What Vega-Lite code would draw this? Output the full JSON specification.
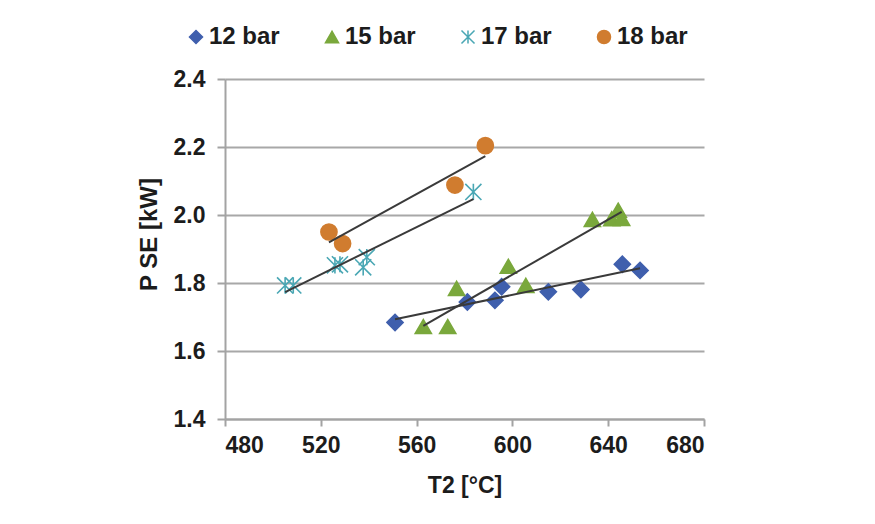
{
  "$schema": "https://vega.github.io/schema/vega-lite/v6.json",
  "width": 479,
  "height": 340,
  "autosize": "none",
  "padding": {"left": 225, "top": 79, "right": 171, "bottom": 105},
  "background": "white",
  "config": {
    "font": "Liberation Sans",
    "view": {"stroke": null},
    "axis": {
      "domainColor": "#a3a3a3",
      "domainWidth": 2,
      "tickColor": "#a3a3a3",
      "tickWidth": 2,
      "gridColor": "#a8a8a8",
      "gridWidth": 2,
      "labelFont": "Liberation Sans",
      "labelFontSize": 23,
      "labelFontWeight": "bold",
      "labelColor": "#1c1c1c",
      "titleFont": "Liberation Sans",
      "titleFontWeight": "bold",
      "titleColor": "#1c1c1c"
    }
  },
  "data": {
    "values": [
      {"series": "12 bar", "T": 551.0, "P": 1.684},
      {"series": "12 bar", "T": 581.2, "P": 1.744},
      {"series": "12 bar", "T": 592.7, "P": 1.749},
      {"series": "12 bar", "T": 595.5, "P": 1.789},
      {"series": "12 bar", "T": 615.0, "P": 1.774},
      {"series": "12 bar", "T": 628.6, "P": 1.781},
      {"series": "12 bar", "T": 645.9, "P": 1.855},
      {"series": "12 bar", "T": 653.3, "P": 1.837},
      {"series": "15 bar", "T": 562.8, "P": 1.672},
      {"series": "15 bar", "T": 573.0, "P": 1.672},
      {"series": "15 bar", "T": 576.7, "P": 1.784},
      {"series": "15 bar", "T": 598.3, "P": 1.849},
      {"series": "15 bar", "T": 605.6, "P": 1.793},
      {"series": "15 bar", "T": 633.4, "P": 1.987},
      {"series": "15 bar", "T": 641.5, "P": 1.989},
      {"series": "15 bar", "T": 644.2, "P": 2.014},
      {"series": "15 bar", "T": 645.6, "P": 1.99},
      {"series": "17 bar", "T": 505.1, "P": 1.793},
      {"series": "17 bar", "T": 508.5, "P": 1.793},
      {"series": "17 bar", "T": 525.9, "P": 1.852},
      {"series": "17 bar", "T": 528.0, "P": 1.855},
      {"series": "17 bar", "T": 537.7, "P": 1.846},
      {"series": "17 bar", "T": 539.2, "P": 1.876},
      {"series": "17 bar", "T": 583.7, "P": 2.068},
      {"series": "18 bar", "T": 523.4, "P": 1.95},
      {"series": "18 bar", "T": 529.1, "P": 1.916},
      {"series": "18 bar", "T": 576.0, "P": 2.088},
      {"series": "18 bar", "T": 588.7, "P": 2.204}
    ]
  },
  "encoding": {
    "x": {
      "field": "T",
      "type": "quantitative",
      "scale": {"domain": [480, 680], "nice": false, "zero": false},
      "axis": {
        "title": "T2 [°C]",
        "values": [480, 520, 560, 600, 640, 680],
        "grid": false,
        "tickSize": 7,
        "labelPadding": 8,
        "titleFontSize": 23,
        "titlePadding": 17
      }
    },
    "y": {
      "field": "P",
      "type": "quantitative",
      "scale": {"domain": [1.4, 2.4], "nice": false, "zero": false},
      "axis": {
        "title": "P SE [kW]",
        "values": [1.4, 1.6, 1.8, 2.0, 2.2, 2.4],
        "format": ".1f",
        "tickSize": 8,
        "labelPadding": 12,
        "titleFontSize": 24,
        "titlePadding": 12,
        "titleY": 155
      }
    }
  },
  "layer": [
    {
      "mark": {"type": "point", "filled": true, "opacity": 1, "size": 260, "strokeWidth": 1.6},
      "encoding": {
        "fill": {
          "field": "series",
          "type": "nominal",
          "scale": {
            "domain": ["12 bar", "15 bar", "17 bar", "18 bar"],
            "range": ["#3f5fad", "#7aa83c", "#4aa7b4", "#d07c2f"]
          },
          "legend": {
            "title": null,
            "orient": "none",
            "legendX": -41,
            "legendY": -54,
            "direction": "horizontal",
            "columns": 4,
            "padding": 0,
            "columnPadding": 40,
            "labelOffset": 1,
            "labelFont": "Liberation Sans",
            "labelFontSize": 24,
            "labelFontWeight": "bold",
            "labelColor": "#1c1c1c",
            "symbolSize": 170,
            "symbolStrokeWidth": 1.5
          }
        },
        "stroke": {
          "field": "series",
          "type": "nominal",
          "scale": {
            "domain": ["12 bar", "15 bar", "17 bar", "18 bar"],
            "range": ["#3f5fad", "#7aa83c", "#4aa7b4", "#d07c2f"]
          }
        },
        "shape": {
          "field": "series",
          "type": "nominal",
          "scale": {
            "domain": ["12 bar", "15 bar", "17 bar", "18 bar"],
            "range": ["diamond", "triangle-up", "M-1,-1L1,1M-1,1L1,-1M0,-1L0,1", "circle"]
          }
        }
      }
    },
    {
      "transform": [{"regression": "P", "on": "T", "groupby": ["series"]}],
      "mark": {"type": "line", "color": "#3a3a3a", "strokeWidth": 2},
      "encoding": {"detail": {"field": "series", "type": "nominal"}}
    }
  ]
}
